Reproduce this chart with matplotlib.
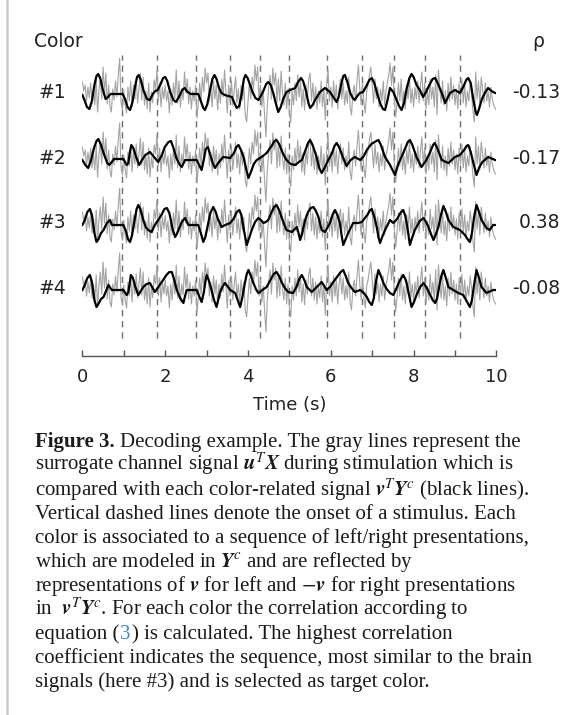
import numpy as np
import matplotlib
matplotlib.use("Agg")
import matplotlib.pyplot as plt
from matplotlib.lines import Line2D

plt.rcParams['mathtext.fontset'] = 'stix'

W, H = 563, 715

# stimulus onsets (s)
onsets = [0.95, 1.79, 2.74, 3.57, 4.28, 5.00, 5.90, 6.75, 7.53, 8.28, 9.13]

color_labels = ['#1', '#2', '#3', '#4']
rho_values = ['-0.13', '-0.17', '0.38', '-0.08']

# surrogate channel signal u^T X (same for every row), 30 samples / s
gray_rate = 30
gray_sig = [
    13, 4, 10, -6, 8, -3, 12, -8, 6, -10, 15, -17, 5, 18, -4, 28, 2, 22, -9, 10, -12, -17, 6, -5, 14, -2, 20, 37, -8, -15,
    5, -10, -18, 8, -6, 14, -12, 10, -4, 16, -8, 6, 22, -5, 18, -10, 4, -14, 12, -17, 3, -8, 15, 6, 25, -6, 12, -12, 8, -4,
    10, -6, 4, -18, 6, -10, 12, -4, 25, -8, 14, -12, 6, -5, 23, 2, 16, -9, 8, -14, 4, -6, 10, -23, -8, 12, -5, 18, 3, 27,
    12, 22, -6, 8, -12, 14, -4, 10, -15, 6, -8, 16, -2, 25, 4, -18, 10, -6, 14, -10, 5, 18, -8, 6, -14, 10, -5, 8, -20, -27,
    -8, 12, -4, 18, 6, 30, 14, 28, -6, 10, -12, 4, -20, -42, -10, 8, 20, -4, 27, 10, 22, -8, 16, -6, 24, 2, -10, 12, -14, 6,
    -18, -27, 4, -10, 12, -6, 20, -2, 14, -12, 6, -15, 10, -4, 16, 22, -6, 12, -10, 8, -14, 4, -8, 14, -12, 6, -25, 10, 25, -6,
    8, -12, 14, -6, 10, -14, 6, 16, -4, 12, -10, 4, -8, 18, -12, -20, 2, 10, -6, 14, 30, 6, -10, 12, -8, -18, 4, 10, 20, 28,
    10, -8, 16, -4, 8, -12, 6, -6, 14, -10, 4, 12, 20, 32, 10, 28, -4, -22, -8, 12, -6, 16, -10, 4, -14, 10, -4, 18, -8, 6,
    -12, 8, -4, 14, -8, 10, 23, -6, 12, -14, 4, -10, 16, -4, 8, -12, 20, -20, 25, 6, -8, 14, -10, 4, -16, 12, -6, 18, -4, 10,
    -10, 6, -14, 12, -4, 16, -8, 10, -12, 4, -6, 14, 2, -16, -27, 23, -4, 14, -10, 18, 6, -8, 12, -6, 4, -12, 8, -4, -10, -13, -15,
]

# color-related signals v^T Y^c (black lines)
row1_t = [0.00, 0.05, 0.11, 0.17, 0.23, 0.29, 0.34, 0.38, 0.43, 0.49, 0.56, 0.62, 0.68, 0.97, 1.03, 1.09, 1.15, 1.21, 1.27, 1.32,
          1.36, 1.41, 1.48, 1.56, 1.63, 1.70, 1.76, 1.82, 1.89, 1.95, 2.00, 2.05, 2.12, 2.20, 2.26, 2.33, 2.41, 2.47, 2.54, 2.62,
          2.80, 2.86, 2.92, 2.96, 3.02, 3.08, 3.14, 3.19, 3.24, 3.30, 3.36, 3.44, 3.52, 3.61, 3.67, 3.73, 3.79, 3.85, 3.90, 3.94,
          3.99, 4.05, 4.12, 4.18, 4.25, 4.31, 4.37, 4.44, 4.49, 4.55, 4.61, 4.67, 4.73, 4.79, 4.85, 4.93, 5.02, 5.14, 5.21, 5.28,
          5.33, 5.40, 5.46, 5.50, 5.56, 5.62, 5.74, 5.86, 5.98, 6.06, 6.14, 6.19, 6.25, 6.30, 6.34, 6.40, 6.47, 6.53, 6.58, 6.64,
          6.70, 6.78, 6.86, 6.93, 6.99, 7.05, 7.13, 7.20, 7.26, 7.31, 7.37, 7.43, 7.51, 7.58, 7.65, 7.71, 7.77, 7.83, 7.90, 7.95,
          8.00, 8.07, 8.15, 8.23, 8.30, 8.38, 8.46, 8.52, 8.58, 8.68, 8.76, 8.82, 8.88, 9.00, 9.12, 9.20, 9.27, 9.32, 9.38, 9.44,
          9.50, 9.53, 9.58, 9.65, 9.72, 9.80, 9.88, 9.97]
row1_v = [0, -5, -12, -14, -6, 10, 19, 21, 17, 6, -4, -2, 1, 1, -4, -12, -15, -7, 8, 18,
          20, 15, 4, -4, -5, 1, 4, 5, 11, 17, 18, 14, 3, -5, -7, -2, 5, 7, 3, 1,
          1, -6, -13, -15, -9, 4, 16, 20, 16, 7, 2, 0, -1, -2, -8, -13, -11, 2, 16, 20,
          17, 10, 2, -3, -5, -1, 4, 11, 13, 10, 2, -8, -17, -12, -4, 3, 5, 7, 13, 17,
          14, 4, -8, -13, -10, -5, 3, 7, 3, -2, -7, -2, 10, 19, 20, 13, 2, -3, -5, -1,
          2, 3, 9, 15, 17, 12, 0, -9, -14, -15, -5, 7, 3, -4, -11, -15, -8, 6, 17, 21,
          18, 10, 5, -2, 3, 10, 16, 17, 12, 2, -8, -3, 2, 5, 2, 8, 15, 17, 12, -4,
          -17, -20, -14, -4, 2, 7, 4, 2]

row2_t = [0.00, 0.07, 0.14, 0.21, 0.28, 0.34, 0.385, 0.44, 0.52, 0.60, 0.65, 0.71, 0.76, 0.99, 1.07, 1.11, 1.14, 1.18, 1.23, 1.29,
          1.37, 1.44, 1.52, 1.63, 1.73, 1.83, 1.92, 1.99, 2.08, 2.14, 2.20, 2.27, 2.34, 2.40, 2.48, 2.76, 2.83, 2.88, 2.93, 2.98,
          3.03, 3.09, 3.15, 3.20, 3.28, 3.40, 3.57, 3.66, 3.72, 3.77, 3.83, 3.90, 3.96, 4.01, 4.07, 4.14, 4.21, 4.33, 4.45, 4.57,
          4.64, 4.69, 4.75, 4.85, 4.93, 5.03, 5.14, 5.23, 5.30, 5.38, 5.45, 5.50, 5.56, 5.65, 5.72, 5.78, 5.86, 5.94, 6.02, 6.09,
          6.14, 6.20, 6.30, 6.38, 6.48, 6.58, 6.71, 6.80, 6.87, 6.98, 7.10, 7.15, 7.21, 7.31, 7.43, 7.55, 7.63, 7.71, 7.80, 7.86,
          7.91, 7.97, 8.07, 8.19, 8.31, 8.40, 8.47, 8.51, 8.56, 8.68, 8.84, 9.00, 9.12, 9.22, 9.28, 9.32, 9.38, 9.45, 9.52, 9.58,
          9.66, 9.72, 9.80, 9.97]
row2_v = [0, -5, -8, 0, 12, 19, 21, 16, 6, -3, -5, -2, 1, 1, -5, -3, 6, 15, 12, 4,
          -5, 0, 5, 8, 3, -2, 5, 13, 18, 19, 12, 2, -4, -7, 0, 0, -6, -10, 0, 11,
          13, 5, -3, -8, -3, 3, 2, 7, 13, 15, 10, 2, -10, -18, -12, -4, 0, 3, 7, 14,
          19, 20, 16, 6, 0, -4, -5, -2, 0, 9, 17, 20, 15, 4, -8, -13, -7, 0, 6, 14,
          17, 13, 2, -6, 0, 3, 0, 4, 10, 16, 19, 20, 15, 3, -5, -15, -4, 3, 12, 18,
          20, 15, 3, -7, 0, 8, 15, 17, 13, 0, -3, 3, 5, 10, 14, 15, 8, -4, -15, -8,
          -2, 0, 3, 0]

row3_t = [0.00, 0.06, 0.12, 0.18, 0.23, 0.29, 0.34, 0.39, 0.45, 0.51, 0.59, 0.67, 0.71, 0.99, 1.05, 1.10, 1.15, 1.20, 1.26, 1.31,
          1.35, 1.40, 1.47, 1.53, 1.59, 1.67, 1.75, 1.83, 1.91, 1.98, 2.04, 2.10, 2.18, 2.24, 2.28, 2.32, 2.40, 2.48, 2.56, 2.80,
          2.86, 2.92, 2.97, 3.03, 3.09, 3.16, 3.22, 3.28, 3.32, 3.36, 3.45, 3.57, 3.65, 3.73, 3.79, 3.84, 3.90, 3.97, 4.02, 4.09,
          4.17, 4.25, 4.31, 4.37, 4.43, 4.49, 4.56, 4.63, 4.69, 4.75, 4.81, 4.87, 4.93, 5.06, 5.18, 5.22, 5.26, 5.31, 5.38, 5.45,
          5.52, 5.58, 5.64, 5.70, 5.78, 5.86, 5.98, 6.04, 6.10, 6.16, 6.22, 6.26, 6.30, 6.36, 6.42, 6.54, 6.66, 6.75, 6.88, 6.95,
          6.99, 7.05, 7.11, 7.15, 7.19, 7.25, 7.31, 7.43, 7.51, 7.60, 7.68, 7.75, 7.80, 7.86, 7.91, 7.97, 8.03, 8.15, 8.24, 8.30,
          8.36, 8.42, 8.48, 8.54, 8.60, 8.66, 8.72, 8.78, 8.84, 8.96, 9.12, 9.24, 9.30, 9.36, 9.41, 9.46, 9.52, 9.58, 9.64, 9.76,
          9.84, 9.92, 9.97]
row3_v = [0, 5, 13, 16, 10, -8, -17, -14, -8, -5, 2, 5, 0, 0, -6, -14, -17, -10, 5, 16,
          20, 16, 5, -2, -5, -7, 0, 5, 10, 16, 17, 12, -4, -12, -9, -5, 3, 7, 0, 0,
          -8, -17, -12, 0, 12, 18, 13, 5, 2, -2, 0, 2, 6, 13, 15, 10, -5, -20, -14, -5,
          3, 7, 5, 2, 3, 5, 12, 18, 20, 15, 8, 1, -5, -7, -2, -8, -15, -8, 5, 13,
          17, 18, 14, 8, -5, -7, 2, 10, 15, 10, 2, -10, -20, -14, -8, 2, 2, 3, 10, 15,
          16, 8, -2, -12, -18, -11, -5, 5, 2, 6, 12, 15, 9, -5, -20, -12, -5, 4, 7, 3,
          -2, -9, -15, -9, -2, 10, 19, 13, 5, -2, -5, -10, -14, -17, -8, 8, 20, 13, 5, -3,
          -5, 0, 0]

row4_t = [0.00, 0.06, 0.12, 0.18, 0.23, 0.29, 0.34, 0.40, 0.45, 0.51, 0.57, 0.63, 0.71, 0.99, 1.07, 1.11, 1.14, 1.17, 1.22, 1.28,
          1.35, 1.41, 1.47, 1.55, 1.63, 1.75, 1.85, 1.95, 2.03, 2.10, 2.16, 2.22, 2.28, 2.36, 2.44, 2.48, 2.52, 2.76, 2.82, 2.88,
          2.93, 2.97, 3.00, 3.05, 3.12, 3.18, 3.24, 3.28, 3.32, 3.38, 3.44, 3.50, 3.57, 3.69, 3.75, 3.81, 3.86, 3.92, 3.97, 4.01,
          4.06, 4.13, 4.19, 4.25, 4.35, 4.45, 4.54, 4.62, 4.69, 4.75, 4.81, 4.89, 4.97, 5.09, 5.17, 5.24, 5.30, 5.36, 5.42, 5.54,
          5.66, 5.78, 5.90, 5.98, 6.06, 6.15, 6.24, 6.30, 6.36, 6.42, 6.50, 6.58, 6.71, 6.80, 6.87, 6.93, 6.99, 7.04, 7.09, 7.15,
          7.21, 7.27, 7.35, 7.43, 7.51, 7.58, 7.66, 7.75, 7.80, 7.83, 7.89, 7.95, 8.01, 8.07, 8.16, 8.24, 8.32, 8.40, 8.46, 8.52,
          8.57, 8.62, 8.67, 8.72, 8.78, 8.84, 8.96, 9.08, 9.20, 9.28, 9.36, 9.41, 9.46, 9.52, 9.58, 9.64, 9.76, 9.92, 9.97]
row4_v = [0, 5, 12, 15, 8, -10, -17, -13, -9, -7, -1, 5, 0, 0, -5, -2, 6, 15, 12, 3,
          -5, -1, 3, 6, 7, -2, 4, 10, 15, 18, 18, 10, 0, -8, -13, -6, 0, 0, -6, -12,
          -3, 8, 15, 10, 0, -10, -17, -10, -3, 3, 7, 4, 0, -3, -10, -17, -8, 6, 16, 20,
          15, 7, 1, -3, 0, 3, 10, 16, 18, 14, 8, 2, -2, -3, 3, 11, 15, 10, 3, -2,
          3, 8, 0, 3, 8, 13, 18, 20, 14, 7, 2, -2, 0, -3, -7, -12, -15, -8, 8, 20,
          14, 7, 1, -3, -5, 1, 9, 15, 11, 7, -5, -17, -12, -5, 3, 7, 2, -5, -10, -13,
          -8, 4, 14, 20, 12, 3, 0, -3, -5, -11, -17, -10, 5, 20, 12, 3, -3, 0, 0]

rows_t = [row1_t, row2_t, row3_t, row4_t]
rows_v = [row1_v, row2_v, row3_v, row4_v]


def fx(x):
    return x / W


def fy(y):
    return 1 - y / H


fig = plt.figure(figsize=(W / 100, H / 100), dpi=100)

# plot area in pixel terms: x 0..10 s -> 82.4..496.4 px, axis line at y=356 px
ax_l, ax_r, ax_top, ax_bot = 82.4, 496.4, 40, 356
ax = fig.add_axes([fx(ax_l), fy(ax_bot), (ax_r - ax_l) / W, (ax_bot - ax_top) / H])
ax.set_xlim(0, 10)
ax.set_ylim(-ax_bot, -ax_top)

baselines = [95, 160, 225, 290]

ax.vlines(onsets, -338, -55, colors='#6e6e6e', linewidth=1.0,
          linestyles=(0, (4.5, 3.5)), zorder=1)

gray_t = np.arange(len(gray_sig)) / gray_rate
for i, base in enumerate(baselines):
    ax.plot(gray_t, -base + np.array(gray_sig), color='#a3a3a3', lw=0.8, zorder=2)
    ax.plot(rows_t[i], -base + np.array(rows_v[i]), color='black', lw=1.6,
            solid_joinstyle='round', zorder=3)

for s in ['top', 'left', 'right']:
    ax.spines[s].set_visible(False)
ax.spines['bottom'].set_color('#555555')
ax.spines['bottom'].set_linewidth(1.0)
ax.set_yticks([])
ax.set_xticks(range(11))
ax.set_xticklabels([str(i) if i % 2 == 0 else '' for i in range(11)])
ax.tick_params(axis='x', direction='in', length=4, width=1, color='#555555',
               labelsize=13, pad=9, labelcolor='#222222')
ax.patch.set_alpha(0)

sans = 'DejaVu Sans'
fig.text(fx(58), fy(47), 'Color', ha='center', va='baseline', fontsize=13.5,
         family=sans, color='#222222')
fig.text(fx(538), fy(47), 'ρ', ha='center', va='baseline', fontsize=13.5,
         family=sans, color='#222222')
for i, base in enumerate(baselines):
    fig.text(fx(52.5), fy(base - 2), color_labels[i], ha='center', va='center',
             fontsize=13.5, family=sans, color='#222222')
    fig.text(fx(560), fy(base - 2), rho_values[i], ha='right', va='center',
             fontsize=13.5, family=sans, color='#222222')
fig.text(fx(290), fy(405), 'Time (s)', ha='center', va='center', fontsize=13,
         family=sans, color='#222222')

# page margin bar
fig.add_artist(Line2D([fx(7.3), fx(7.3)], [0, 1], color='#cccccc', lw=1.8))

# caption
serif = 'Liberation Serif'
cap_fs = 15
cap_x = 35
cap_y0 = 447
cap_dy = 24.0
# small per-line nudges so superscripts do not touch the line above
nudge = [0, -1, 1, 0, 0, 0, 0, 0, 0, 0, 0]
renderer = fig.canvas.get_renderer()


def text_w(s, **kw):
    t = fig.text(0, 0, s, **kw)
    w = t.get_window_extent(renderer).width
    t.remove()
    return w


ckw = dict(fontsize=cap_fs, family=serif, color='#1a1a1a', va='baseline', ha='left')

lines = [
    None,
    r'surrogate channel signal $\boldsymbol{u}^{T}\boldsymbol{X}$ during stimulation which is',
    r'compared with each color-related signal $\boldsymbol{v}^{T}\boldsymbol{Y}^{c}$ (black lines).',
    'Vertical dashed lines denote the onset of a stimulus. Each',
    'color is associated to a sequence of left/right presentations,',
    r'which are modeled in $\boldsymbol{Y}^{c}$ and are reflected by',
    r'representations of $\boldsymbol{v}$ for left and $-\boldsymbol{v}$ for right presentations',
    r'in  $\boldsymbol{v}^{T}\boldsymbol{Y}^{c}$. For each color the correlation according to',
    None,
    'coefficient indicates the sequence, most similar to the brain',
    'signals (here #3) and is selected as target color.',
]

for k, s in enumerate(lines):
    y = cap_y0 + k * cap_dy + nudge[k]
    if k == 0:
        head = 'Figure 3.'
        fig.text(fx(cap_x), fy(y), head, fontweight='bold', **ckw)
        wh = text_w(head, fontweight='bold', **ckw)
        fig.text(fx(cap_x + wh + 5.2), fy(y),
                 'Decoding example. The gray lines represent the', **ckw)
    elif k == 8:
        p1 = 'equation ('
        w1 = text_w(p1, **ckw)
        w3 = text_w('3', **ckw)
        fig.text(fx(cap_x), fy(y), p1, **ckw)
        ckw_blue = dict(ckw, color='#2f8cc4')
        fig.text(fx(cap_x + w1 + 0.8), fy(y), '3', **ckw_blue)
        fig.text(fx(cap_x + w1 + w3 + 1.8), fy(y),
                 ') is calculated. The highest correlation', **ckw)
    else:
        fig.text(fx(cap_x), fy(y), s, **ckw)

fig.savefig('out.png', dpi=100)
